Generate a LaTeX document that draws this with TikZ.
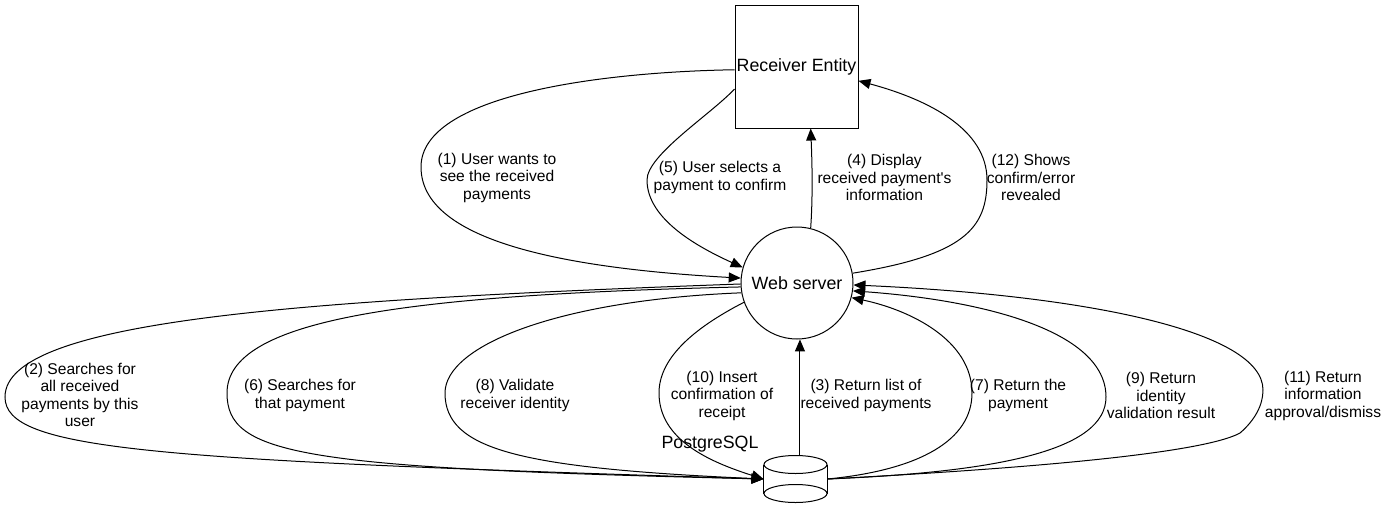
\documentclass[tikz,border=0pt]{standalone}
\usepackage{fontspec}
\setmainfont{Liberation Sans}
\usetikzlibrary{arrows.meta}

\begin{document}
\begin{tikzpicture}[x=1pt, y=-1pt, line width=1pt, >={Triangle[length=12pt,width=10pt]},
        entity/.style={draw, minimum width=123pt, minimum height=123pt, inner sep=0pt, font=\fontsize{17.8}{20}\selectfont},
        process/.style={draw, circle, minimum size=112pt, inner sep=0pt, font=\fontsize{17.8}{20}\selectfont},
        store/.style={minimum width=63pt, minimum height=46pt, inner sep=0pt},
        lbl/.style={align=center, inner sep=0pt, font=\fontsize{15.6}{17.5}\selectfont}]
        \useasboundingbox (0,0) rectangle (1390,509);
        % Nodes
        \node[entity] (RE) at (796.5,66.5) {Receiver Entity};
        \node[process] (WS) at (797,283) {Web server};
        \node[store] (PG) at (795.5,479) {};
        \node[font=\fontsize{17.8}{20}\selectfont] (PGname) at (710,444) {PostgreSQL};
        
        % Database
        \draw ([yshift=-9pt]PG.north) ellipse [x radius=31.5, y radius=9];
        \draw ([yshift=9pt]PG.south) ellipse [x radius=31.5, y radius=9];
        \draw ([yshift=-9pt]PG.north west) -- ([yshift=9pt]PG.south west);
        \draw ([yshift=-9pt]PG.north east) -- ([yshift=9pt]PG.south east);
        
        % Arrows
        \draw[->] (RE.183) .. controls (600,72) and (421,95) .. (421,167)
            .. controls (421,240) and (560,268) .. (WS.175);
        \draw[->] (RE.200) .. controls (710,115) and (647,155) .. (647,180)
            .. controls (647,220) and (700,248) .. (WS.164);
        \draw[->] (WS.76) .. controls (813,195) and (812,160) .. (WS.76 |- RE.south);
        \draw[->] (WS.10) .. controls (965,255) and (987,228) .. (987,180)
            .. controls (987,130) and (930,100) .. (RE.-13);
        
        \draw[->] (WS.181) .. controls (300,300) and (5,320) .. (5,397)
            .. controls (5,450) and (150,460) .. (PG.west);
        \draw[->] (WS.184) .. controls (400,295) and (227,320) .. (227,393)
            .. controls (227,455) and (300,468) .. (PG.west);
        \draw[->] (WS.190) .. controls (560,300) and (445,345) .. (445,393)
            .. controls (445,450) and (520,468) .. (PG.west);
        \draw[->] (WS.200) .. controls (690,330) and (659,360) .. (659,393)
            .. controls (659,440) and (710,462) .. (PG.west);
        
        \draw[->] (PG.north -| WS.-87) -- (WS.-87);
        \draw[->] (PG.east) .. controls (920,470) and (972,440) .. (972,393)
            .. controls (972,340) and (910,310) .. (WS.-15);
        \draw[->] (PG.east) .. controls (1000,472) and (1106,450) .. (1106,397)
            .. controls (1106,330) and (980,300) .. (WS.-8);
        \draw[->] (PG.east) .. controls (1000,470) and (1200,455) .. (1240,433)
            .. controls (1255,420) and (1263,405) .. (1263,390)
            .. controls (1263,330) and (1080,295) .. (WS.-2);
        
        % Labels
        \node[lbl] (l1) at (497,177.7) {(1) User wants to\\see the received\\payments};
        \node[lbl] (l5) at (720,177.5) {(5) User selects a\\payment to confirm};
        \node[lbl] (l4) at (884.5,177.7) {(4) Display\\received payment\textquotesingle s\\information};
        \node[lbl] (l12) at (1031,177.7) {(12) Shows\\confirm/error\\revealed};
        \node[lbl] (l2) at (80,395) {(2) Searches for\\all received\\payments by this\\user};
        \node[lbl] (l6) at (300,395.5) {(6) Searches for\\that payment};
        \node[lbl] (l8) at (515,395.5) {(8) Validate\\receiver identity};
        \node[lbl] (l10) at (722,395.5) {(10) Insert\\confirmation of\\receipt};
        \node[lbl] (l3) at (866,395.5) {(3) Return list of\\received payments};
        \node[lbl] (l7) at (1018,395.5) {(7) Return the\\payment};
        \node[lbl] (l9) at (1161,395.5) {(9) Return\\identity\\validation result};
        \node[lbl] (l11) at (1323,395.5) {(11) Return\\information\\approval/dismiss};
    \end{tikzpicture}
\end{document}
